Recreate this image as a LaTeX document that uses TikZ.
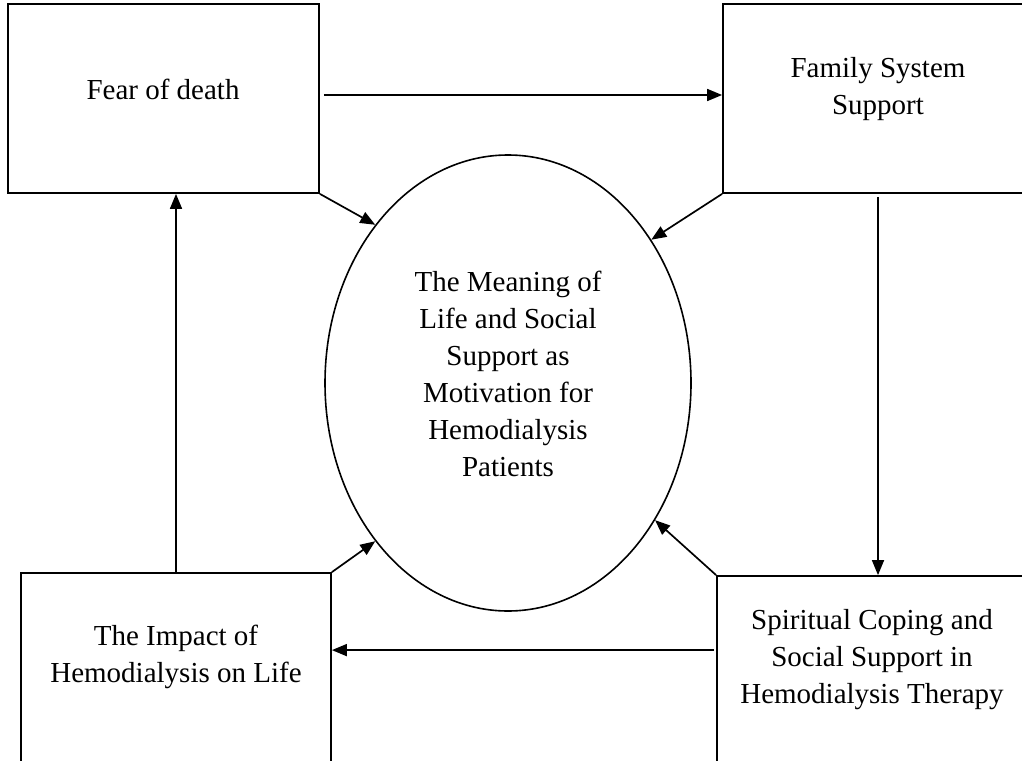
\documentclass[tikz,border=0pt]{standalone}
\usepackage{fontspec}
\setmainfont{Liberation Serif}
\usetikzlibrary{arrows.meta,shapes.geometric}

\begin{document}
\begin{tikzpicture}[x=1pt,y=-1pt,
  box/.style={draw,line width=1.8pt,rectangle,inner sep=0pt},
  ovalnode/.style={draw,line width=1.6pt,ellipse,inner sep=0pt,minimum width=366pt,minimum height=456pt},
  txt/.style={align=center,inner sep=0pt,font=\fontsize{29}{37}\selectfont},
  arr/.style={line width=1.7pt,-{Triangle[length=15pt,width=12pt]}}]
  \useasboundingbox (0,0) rectangle (1022,760);
  \clip (0,0) rectangle (1022,760);
  % four boxes round the central ellipse
  \node[box,minimum width=311pt,minimum height=189pt] (fear) at (163.5,98.5) {};
  \node[box,minimum width=310pt,minimum height=189pt] (family) at (878,98.5) {};
  \node[box,minimum width=310pt,minimum height=200pt] (impact) at (176,673) {};
  \node[box,minimum width=323pt,minimum height=200pt] (spiritual) at (878.5,676) {};
  \node[ovalnode] (meaning) at (508,383) {};
  % texts
  \node[txt] (fearlabel) at (163,89) {Fear of death};
  \node[txt] (familylabel) at (878,89) {Family System\\Support};
  \node[txt] (impactlabel) at (176,657) {The Impact of\\Hemodialysis on Life};
  \node[txt] (spirituallabel) at (872,660) {Spiritual Coping and\\Social Support in\\Hemodialysis Therapy};
  \node[txt] (meaninglabel) at (508,374) {The Meaning of\\Life and Social\\Support as\\Motivation for\\Hemodialysis\\Patients};
  % the cycle of boxes
  \draw[arr,shorten <=4pt] ([yshift=3.5pt]fear.east) -- ([yshift=3.5pt]family.west);
  \draw[arr,shorten <=3pt] (family.south) -- (family.south |- spiritual.north);
  \draw[arr,shorten <=2pt] ([yshift=-75pt]spiritual.north west) -- ([yshift=-75pt]spiritual.north west -| impact.east);
  \draw[arr] (impact.north) -- (impact.north |- fear.south);
  % arrows into the ellipse
  \draw[arr] (fear.south east) -- (meaning.130);
  \draw[arr] (family.south west) -- (meaning.45);
  \draw[arr] (impact.north east) -- (meaning.230);
  \draw[arr] (spiritual.north west) -- (meaning.317);
\end{tikzpicture}
\end{document}
